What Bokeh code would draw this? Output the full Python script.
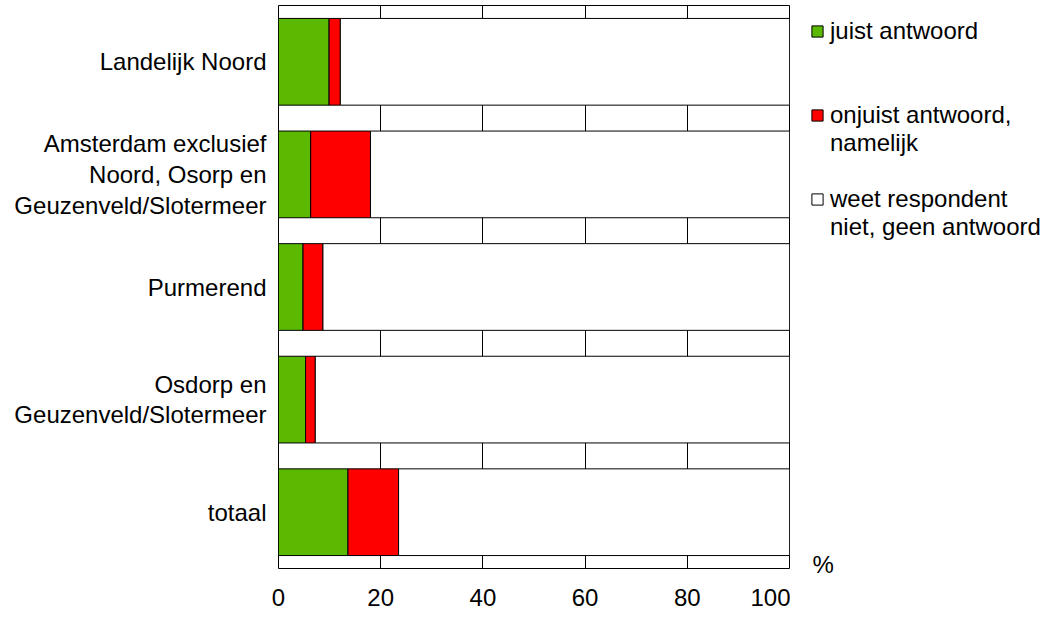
from bokeh.plotting import figure
from bokeh.layouts import row, column
from bokeh.models import ColumnDataSource, Range1d, FixedTicker, Legend, LegendItem, Label
from bokeh.embed import file_html
from bokeh.resources import INLINE

# ---- data ----
categories = [
    "Landelijk Noord",
    "Amsterdam exclusief\nNoord, Osorp en\nGeuzenveld/Slotermeer",
    "Purmerend",
    "Osdorp en\nGeuzenveld/Slotermeer",
    "totaal",
]
juist = [9.9, 6.3, 4.8, 5.3, 13.6]
onjuist = [2.2, 11.7, 3.9, 1.9, 9.9]
weet = [87.9, 82.0, 91.3, 92.8, 76.5]
series_labels = ["juist antwoord", "onjuist antwoord,\nnamelijk", "weet respondent\nniet, geen antwoord"]
series_colors = ["#5ab900", "#ff0000", "#ffffff"]
x_ticks = [0, 20, 40, 60, 80, 100]
unit_label = "%"

FONT = "Liberation Sans"
FS = "24px"
H = 612
TOP = 5
BOTTOM_BORDER = 44

n = len(categories)
ypos = [n - 1 - i for i in range(n)]
source = ColumnDataSource(dict(y=ypos, juist=juist, onjuist=onjuist, weet=weet))

# ---------------- main chart ----------------
p = figure(width=790, height=H, output_backend="svg", toolbar_location=None,
           x_range=Range1d(0, 100), y_range=Range1d(-0.5, n - 0.5),
           y_axis_location="left",
           min_border_left=278, min_border_right=1, min_border_top=TOP,
           min_border_bottom=BOTTOM_BORDER)
p.background_fill_color = "white"
p.border_fill_color = "white"
p.outline_line_color = "black"
p.outline_line_width = 1

p.hbar_stack(["juist", "onjuist", "weet"], y="y", height=0.77,
             color=series_colors, line_color="black", line_width=1, source=source)

p.xaxis.ticker = FixedTicker(ticks=x_ticks)
p.xaxis.axis_line_color = None
p.xaxis.major_tick_line_color = None
p.xaxis.minor_tick_line_color = None
p.xaxis.major_tick_out = 0
p.xaxis.major_tick_in = 0
p.xaxis.major_label_standoff = 20
p.xaxis.major_label_text_font = FONT
p.xaxis.major_label_text_font_size = FS
p.xaxis.major_label_text_color = "black"

yax = p.yaxis[0]
yax.ticker = FixedTicker(ticks=ypos)
yax.major_label_overrides = {y: c for y, c in zip(ypos, categories)}
yax.axis_line_color = None
yax.major_tick_line_color = None
yax.minor_tick_line_color = None
yax.major_tick_out = 0
yax.major_tick_in = 0
yax.major_label_standoff = 12
yax.major_label_text_font = FONT
yax.major_label_text_font_size = FS
yax.major_label_text_color = "black"
yax.major_label_text_line_height = 1.14
yax.major_label_text_align = "center"

p.xgrid.ticker = FixedTicker(ticks=x_ticks)
p.xgrid.grid_line_color = "black"
p.xgrid.grid_line_width = 1
p.ygrid.grid_line_color = None

# ---------------- legend panel (pixel coordinates, y downwards) ----------------
LW = 1056 - 790
q = figure(width=LW, height=H, output_backend="svg", toolbar_location=None,
           x_range=Range1d(0, LW), y_range=Range1d(H, 0),
           x_axis_location=None, y_axis_location=None,
           min_border_left=0, min_border_right=0, min_border_top=0, min_border_bottom=0)
q.outline_line_color = None
q.xgrid.grid_line_color = None
q.ygrid.grid_line_color = None
q.background_fill_color = "white"
q.border_fill_color = "white"

nan = float("nan")
swatches = [q.hbar(y=[nan], right=[nan], height=1, fill_color=c, line_color="black")
            for c in series_colors]
blank = q.hbar(y=[nan], right=[nan], height=1, fill_alpha=0, line_alpha=0)

slot_of_first_line = [0, 3, 6]
n_slots = 8
slots = [(" ", blank)] * n_slots
for lbl, r, s in zip(series_labels, swatches, slot_of_first_line):
    lines = lbl.split("\n")
    slots[s] = (lines[0], r)
    for k, extra in enumerate(lines[1:]):
        slots[s + 1 + k] = (extra, blank)
items = [LegendItem(label=t, renderers=[r]) for t, r in slots]
legend_top = 17
legend = Legend(items=items, location=(20, H - (legend_top + 28 * n_slots)),
                border_line_color=None, background_fill_alpha=0, padding=0, margin=0, spacing=0,
                glyph_width=14, glyph_height=14, label_height=28, label_standoff=6,
                label_text_font=FONT, label_text_font_size=FS, label_text_color="black")
q.add_layout(legend)

q.add_layout(Label(x=22, y=564, text=unit_label, text_align="left", text_baseline="middle",
                   text_font=FONT, text_font_size=FS, text_color="black"))

layout = row(p, column(q, spacing=0), spacing=0)
open("out.html", "w").write(file_html(layout, INLINE))
